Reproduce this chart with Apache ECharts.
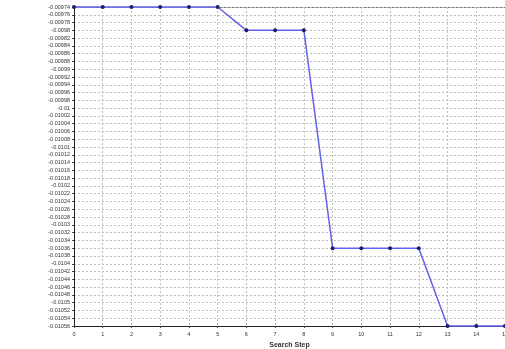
<!DOCTYPE html>
<html><head><meta charset="utf-8">
<script src="https://cdn.jsdelivr.net/npm/echarts@6/dist/echarts.min.js"></script>
<style>html,body{margin:0;padding:0;background:#fff}#c{width:505px;height:349px}</style>
</head><body><div id="c"></div>
<script>
const steps = [0,1,2,3,4,5,6,7,8,9,10,11,12,13,14,15];
const values = [-0.00974,-0.00974,-0.00974,-0.00974,-0.00974,-0.00974,-0.0098,-0.0098,-0.0098,-0.01036,-0.01036,-0.01036,-0.01036,-0.01056,-0.01056,-0.01056];
const xName = 'Search Step';
const yMin = -0.01056, yMax = -0.00974, yStep = 0.00002;

const chart = echarts.init(document.getElementById('c'), null, {renderer:'canvas'});
chart.setOption({
  animation:false,
  grid:{left:74, top:7, width:431, bottom:23, containLabel:false, outerBoundsMode:'none'},
  xAxis:{
    type:'value', min:0, max:15, interval:1,
    name:xName, nameLocation:'middle', nameGap:13,
    nameTextStyle:{fontFamily:'Liberation Sans', fontSize:7, fontWeight:'bold', color:'#333'},
    axisLine:{onZero:false, lineStyle:{color:'#222', width:1}},
    axisTick:{show:true, length:2, lineStyle:{color:'#444'}},
    axisLabel:{fontFamily:'Liberation Sans', fontSize:5.5, color:'#333', margin:5},
    splitLine:{show:true, lineStyle:{color:'#bdbdbd', type:[2,2], width:1}}
  },
  yAxis:{
    type:'value', min:yMin, max:yMax, interval:yStep,
    axisLine:{show:true, lineStyle:{color:'#222', width:1}},
    axisTick:{show:true, length:2, lineStyle:{color:'#444'}},
    axisLabel:{fontFamily:'Liberation Sans', fontSize:5.5, color:'#333', margin:4,
      formatter:v=>{ return String(parseFloat(v.toFixed(5))); }},
    splitLine:{show:true, lineStyle:{color:'#bdbdbd', type:[2,2], width:1}}
  },
  series:[{
    type:'line',
    data:steps.map((s,i)=>[s,values[i]]),
    lineStyle:{color:'#6262e8', width:1.5},
    symbol:'circle', symbolSize:4,
    itemStyle:{color:'#1c1c70'},
    clip:false
  }],
  graphic:[{type:'line', shape:{x1:74,y1:7.5,x2:505,y2:7.5}, style:{stroke:'#777', lineWidth:1}, z:-1}]
});
</script></body></html>
